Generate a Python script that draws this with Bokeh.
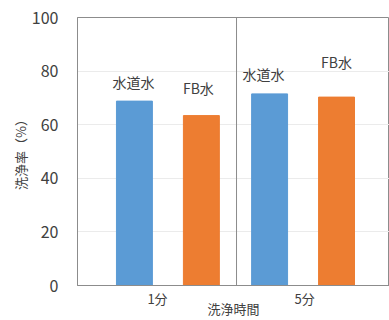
from bokeh.plotting import figure
from bokeh.models import Range1d, FixedTicker, ColumnDataSource, Span
from bokeh.core.properties import value
from bokeh.embed import file_html
from bokeh.resources import INLINE

# ---- data ----
categories = ["1分", "5分"]
series = ["水道水", "FB水"]
tap_water = [68.8, 71.5]
fb_water = [63.4, 70.3]
y_ticks = [0, 20, 40, 60, 80, 100]

# ---- layout / style ----
FONT = "Noto Sans CJK JP"
TXT = "#404040"
colors = ["#5b9bd5", "#ed7d31"]
group_start = [0.358, 1.208]
bar_step = 0.421
bar_w = 0.226
cat_label_pos = [0.503, 1.428]
divider_pos = [1.0]
label_lift = [[7.1, 10.4], [7.5, 13.0]]
label_dx = [[-1, -3], [-6, 0]]

p = figure(width=389, height=320, x_range=Range1d(0, 1.962), y_range=Range1d(0, 100),
           output_backend="svg", toolbar_location=None,
           min_border_left=77, min_border_right=0, min_border_top=17, min_border_bottom=35)
p.background_fill_color = "white"
p.border_fill_color = "white"
p.outline_line_color = "#8c8c8c"
p.xgrid.visible = False
p.ygrid.grid_line_color = "#ebebeb"
p.ygrid.ticker = FixedTicker(ticks=y_ticks)

vals = [tap_water, fb_water]
xs, tops, cols, lx, ly, lt, ldx = [], [], [], [], [], [], []
for i, cat in enumerate(categories):
    for j, s in enumerate(series):
        x = group_start[i] + j * bar_step
        xs.append(x)
        tops.append(vals[j][i])
        cols.append(colors[j])
        lx.append(x)
        ly.append(vals[j][i] + label_lift[i][j])
        lt.append(s)
        ldx.append(label_dx[i][j])

src = ColumnDataSource(dict(x=xs, top=tops, color=cols))
p.vbar(x="x", top="top", width=bar_w, color="color", source=src)

lsrc = ColumnDataSource(dict(x=lx, y=ly, t=lt, dx=ldx))
p.text(x="x", y="y", text="t", x_offset="dx", source=lsrc, text_align="center", text_baseline="middle",
       text_font=value(FONT), text_font_size="14px", text_color=TXT)

for d in divider_pos:
    p.add_layout(Span(location=d, dimension="height", line_color="#8c8c8c", line_width=1))

# axes
p.xaxis.ticker = FixedTicker(ticks=cat_label_pos)
p.xaxis.major_label_overrides = {cat_label_pos[i]: c for i, c in enumerate(categories)}
p.xaxis.axis_label = "洗浄時間"
p.yaxis.ticker = FixedTicker(ticks=y_ticks)
p.yaxis.axis_label = "洗浄率（%）"
for ax in (p.xaxis, p.yaxis):
    ax.axis_line_color = "#8c8c8c"
    ax.major_tick_line_color = None
    ax.minor_tick_line_color = None
    ax.major_label_text_font = FONT
    ax.major_label_text_color = TXT
    ax.axis_label_text_font = FONT
    ax.axis_label_text_color = TXT
    ax.axis_label_text_font_style = "normal"
p.xaxis.major_label_text_font_size = "13px"
p.xaxis.major_label_standoff = -3
p.xaxis.axis_label_text_font_size = "13px"
p.xaxis.axis_label_standoff = -12
p.yaxis.major_label_text_font_size = "16px"
p.yaxis.major_label_standoff = 13
p.yaxis.axis_label_text_font_size = "13px"
p.yaxis.axis_label_standoff = -1

open("out.html", "w").write(file_html(p, INLINE))
